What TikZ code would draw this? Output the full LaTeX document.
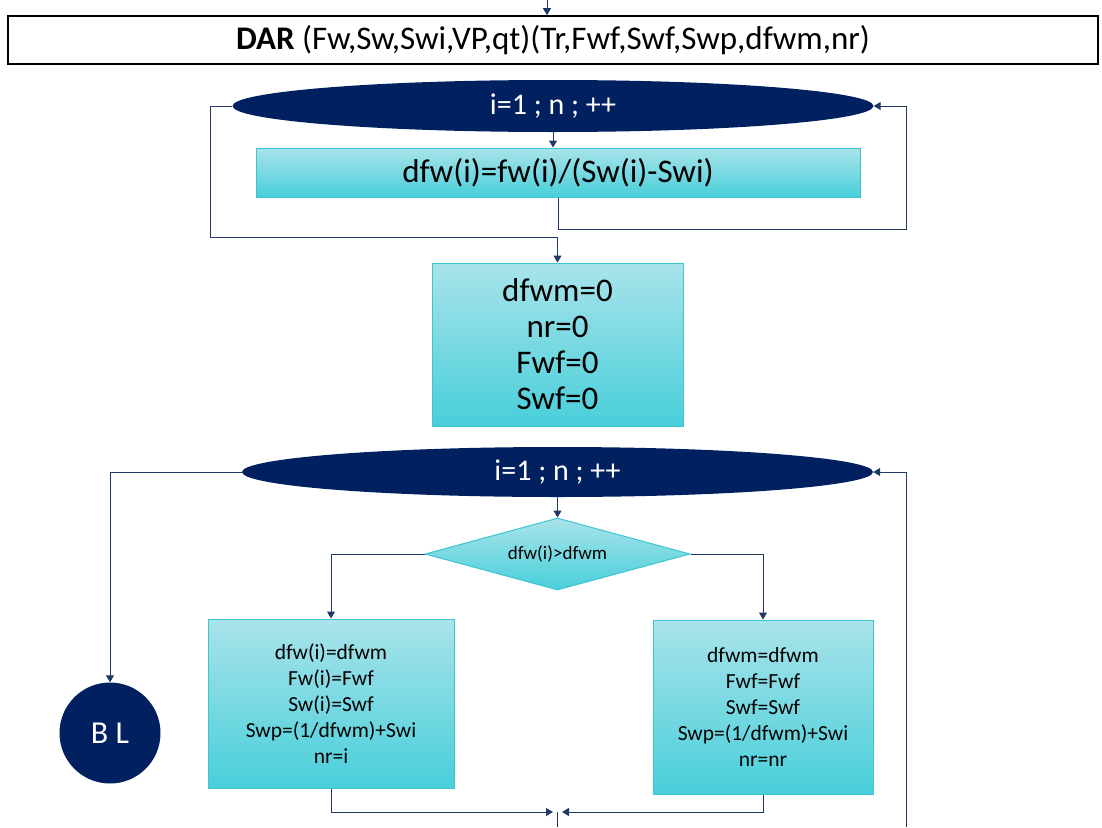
\documentclass[tikz,border=0pt]{standalone}
\usepackage{fontspec}
\setmainfont{Carlito}
\usetikzlibrary{shapes.geometric,arrows.meta}
\definecolor{navy}{HTML}{002060}
\definecolor{lnc}{HTML}{1F3864}
\definecolor{cyt}{HTML}{A9E3EA}
\definecolor{cyb}{HTML}{48CFDA}
\definecolor{cyd}{HTML}{3DC5D0}
\begin{document}
\begin{tikzpicture}[x=1pt,y=-1pt,
  loopnode/.style={ellipse,fill=navy,text=white,inner sep=0pt,font=\fontsize{30}{34}\selectfont},
  box/.style={rectangle,draw=cyd,line width=1pt,top color=cyt,bottom color=cyb,inner sep=0pt,align=center},
  conn/.style={draw=lnc,line width=1pt,-{Triangle[length=7pt,width=8pt]}},
  plain/.style={draw=lnc,line width=1pt}]
\useasboundingbox (0,0) rectangle (1102,827);
% title
\node[draw=black,line width=1.6pt,minimum width=1090pt,minimum height=48pt,inner sep=0pt,
  font=\fontsize{33}{36}\selectfont] (T) at (553,40) {\textbf{DAR} (Fw,Sw,Swi,VP,qt)(Tr,Fwf,Swf,Swp,dfwm,nr)};
\coordinate (t0) at (547,0);
\draw[conn] (t0) -- (t0 |- T.north);
% first loop
\node[loopnode,minimum width=641pt,minimum height=52pt] (L1) at (553,106) {i=1 ; n ; ++};
\node[box,minimum width=604pt,minimum height=49pt,font=\fontsize{33}{36}\selectfont] (B1) at (558,172.5) {dfw(i)=fw(i)/(Sw(i)-Swi)};
\node[box,minimum width=251pt,minimum height=163pt,font=\fontsize{33}{36}\selectfont] (B2) at (557.5,344.5) {dfwm=0\\nr=0\\Fwf=0\\Swf=0};
\coordinate (r1) at (906,229);
\coordinate (l1) at (210,237);
\draw[conn] (L1.south) -- (L1.south |- B1.north);
\draw[conn] (B1.south) |- (r1) |- (L1.east);
\draw[conn] (L1.west) -| (l1) -| (B2.north);
% second loop
\node[loopnode,minimum width=631pt,minimum height=50pt] (L2) at (557.5,472) {i=1 ; n ; ++};
\node[diamond,aspect=3.68,draw=cyd,line width=1pt,top color=cyt,bottom color=cyb,inner sep=0pt,
  minimum width=265pt,minimum height=72pt,font=\fontsize{19}{22}\selectfont] (D) at (557.5,554) {dfw(i)>dfwm};
\node[box,minimum width=246pt,minimum height=169pt,font=\fontsize{21.5}{26}\selectfont] (BL) at (331,703.5)
  {dfw(i)=dfwm\\Fw(i)=Fwf\\Sw(i)=Swf\\Swp=(1/dfwm)+Swi\\nr=i};
\node[box,minimum width=220pt,minimum height=174pt,font=\fontsize{21.5}{26}\selectfont] (BR) at (763,707)
  {dfwm=dfwm\\Fwf=Fwf\\Swf=Swf\\Swp=(1/dfwm)+Swi\\nr=nr};
\node[circle,fill=navy,text=white,minimum size=101pt,inner sep=0pt,font=\fontsize{32}{36}\selectfont] (C) at (110,733) {B L};
\draw[conn] (L2.south) -- (D.north);
\draw[conn] (D.west) -| (BL.north);
\draw[conn] (D.east) -| (BR.north);
\draw[conn] (L2.west) -| (C.north);
\coordinate (rb) at (906,827);
\draw[conn] (rb) |- (L2.east);
\coordinate (ml) at (553,812);
\coordinate (mr) at (562,812);
\coordinate (m) at (557.5,812);
\coordinate (mb) at (557.5,827);
\draw[conn] (BL.south) |- (ml);
\draw[conn] (BR.south) |- (mr);
\draw[plain] (m) -- (mb);
\end{tikzpicture}
\end{document}
